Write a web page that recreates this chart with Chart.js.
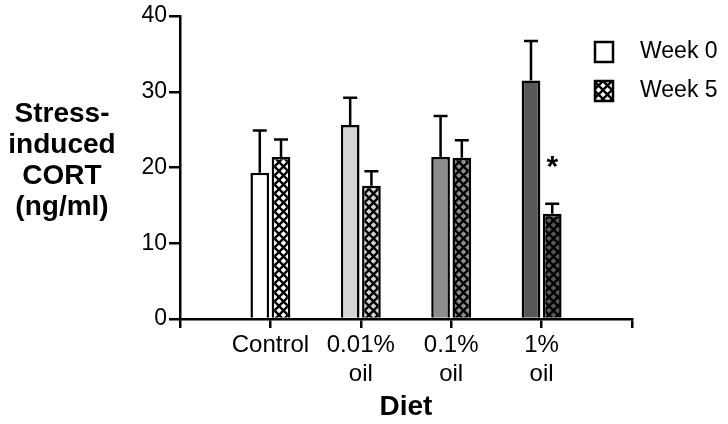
<!DOCTYPE html>
<html>
<head>
<meta charset="utf-8">
<script src="https://cdn.jsdelivr.net/npm/chart.js@4.4.0/dist/chart.umd.min.js"></script>
<style>
  html, body { margin: 0; padding: 0; background: #fff; }
  #wrap { width: 728px; height: 424px; position: relative; }
</style>
</head>
<body>
<div id="wrap"><canvas id="c" width="728" height="424"></canvas></div>
<script>
// ---- Data ----
const categories = ['Control', ['0.01%', 'oil'], ['0.1%', 'oil'], ['1%', 'oil']];
const seriesNames = ['Week 0', 'Week 5'];
const week0Mean = [19.3, 25.6, 21.4, 31.5];
const week0Err  = [5.6, 3.6, 5.4, 5.2];
const week5Mean = [21.4, 17.6, 21.3, 13.9];
const week5Err  = [2.3, 1.9, 2.3, 1.3];
const week5Sig  = ['', '', '', '*'];
const barFills  = ['#ffffff', '#d4d4d4', '#8e8e8e', '#585858'];
const yTicks    = [0, 10, 20, 30, 40];
const yTitleLines = ['Stress-', 'induced', 'CORT', '(ng/ml)'];
const xTitle = 'Diet';

// ---- helpers ----
function hatch(fill) {
  const s = 9;
  const c = document.createElement('canvas');
  c.width = s; c.height = s;
  const g = c.getContext('2d');
  g.fillStyle = fill; g.fillRect(0, 0, s, s);
  g.strokeStyle = '#000'; g.lineWidth = 2.4;
  g.beginPath();
  g.moveTo(-1, -1); g.lineTo(s + 1, s + 1);
  g.moveTo(s + 1, -1); g.lineTo(-1, s + 1);
  g.stroke();
  return g.createPattern(c, 'repeat');
}
const pad = arr => [null, ...arr, null];
const labels = ['', ...categories, ''];

const FONT = "'Liberation Sans', Arial, Helvetica, sans-serif";

const errorBarPlugin = {
  id: 'errorBars',
  afterDatasetsDraw(chart) {
    const ctx = chart.ctx;
    const y = chart.scales.y;
    chart.data.datasets.forEach((ds, di) => {
      const meta = chart.getDatasetMeta(di);
      meta.data.forEach((bar, i) => {
        const v = ds.data[i];
        const e = ds.errors[i];
        if (v == null || e == null) return;
        const top = y.getPixelForValue(v + e);
        ctx.save();
        ctx.strokeStyle = '#000';
        ctx.lineWidth = 2.5;
        ctx.beginPath();
        ctx.moveTo(bar.x, bar.y);
        ctx.lineTo(bar.x, top);
        ctx.moveTo(bar.x - 7, top);
        ctx.lineTo(bar.x + 7, top);
        ctx.stroke();
        const sig = ds.sig && ds.sig[i];
        if (sig) {
          ctx.fillStyle = '#000';
          ctx.font = 'bold 30px ' + FONT;
          ctx.textAlign = 'center';
          ctx.textBaseline = 'alphabetic';
          ctx.fillText(sig, bar.x, top - 28);
        }
        ctx.restore();
      });
    });
  }
};

const decorPlugin = {
  id: 'decor',
  afterDraw(chart) {
    const ctx = chart.ctx;
    ctx.save();
    // y-axis title (horizontal, stacked)
    ctx.fillStyle = '#000';
    ctx.font = 'bold 28px ' + FONT;
    ctx.textAlign = 'center';
    ctx.textBaseline = 'middle';
    yTitleLines.forEach((t, k) => ctx.fillText(t, 62, 114 + k * 31));
    // legend
    const items = chart.data.datasets;
    const boxX = 595, boxW = 18, boxH = 20;
    const ys = [52, 91];
    items.forEach((ds, k) => {
      const cy = ys[k];
      ctx.fillStyle = ds.legendFill;
      ctx.fillRect(boxX, cy - boxH / 2, boxW, boxH);
      ctx.strokeStyle = '#000';
      ctx.lineWidth = 2.5;
      ctx.strokeRect(boxX, cy - boxH / 2, boxW, boxH);
      ctx.fillStyle = '#000';
      ctx.font = '23px ' + FONT;
      ctx.textAlign = 'left';
      ctx.textBaseline = 'middle';
      ctx.fillText(ds.label, 640, cy);
    });
    ctx.restore();
  }
};

new Chart(document.getElementById('c'), {
  type: 'bar',
  data: {
    labels: labels,
    datasets: [
      {
        label: seriesNames[0],
        data: pad(week0Mean),
        errors: pad(week0Err),
        backgroundColor: pad(barFills),
        legendFill: '#ffffff',
        borderColor: '#000',
        borderWidth: 2.5,
        borderSkipped: 'start'
      },
      {
        label: seriesNames[1],
        data: pad(week5Mean),
        errors: pad(week5Err),
        sig: pad(week5Sig),
        backgroundColor: pad(barFills.map(hatch)),
        legendFill: hatch('#ffffff'),
        borderColor: '#000',
        borderWidth: 2.5,
        borderSkipped: 'start'
      }
    ]
  },
  options: {
    responsive: false,
    animation: false,
    devicePixelRatio: 1,
    layout: { padding: { left: 0, right: 96, top: 16, bottom: 0 } },
    datasets: { bar: { categoryPercentage: 0.47, barPercentage: 0.88 } },
    plugins: { legend: { display: false }, tooltip: { enabled: false } },
    scales: {
      x: {
        type: 'category',
        offset: false,
        grid: { display: true, offset: false, drawOnChartArea: false, drawTicks: true, tickLength: 9, color: '#000', lineWidth: 2.5 },
        border: { display: true, color: '#000', width: 2.5 },
        ticks: {
          autoSkip: false, maxRotation: 0, padding: 3, color: '#000',
          font: { family: FONT, size: 24, lineHeight: 1.2 }
        },
        title: { display: true, text: xTitle, color: '#000', font: { family: FONT, size: 28, weight: 'bold', lineHeight: 1.1 }, padding: { top: 0, bottom: 1 } },
        afterFit: s => { s.height = 105; }
      },
      y: {
        min: 0, max: 40,
        afterBuildTicks: s => { s.ticks = yTicks.map(v => ({ value: v })); },
        grid: { display: true, drawOnChartArea: false, drawTicks: true, tickLength: 11, color: '#000', lineWidth: 2.5 },
        border: { display: true, color: '#000', width: 2.5 },
        ticks: { padding: 2, color: '#000', font: { family: FONT, size: 23 } },
        afterFit: s => { s.width = 180; }
      }
    }
  },
  plugins: [errorBarPlugin, decorPlugin]
});
</script>
</body>
</html>
